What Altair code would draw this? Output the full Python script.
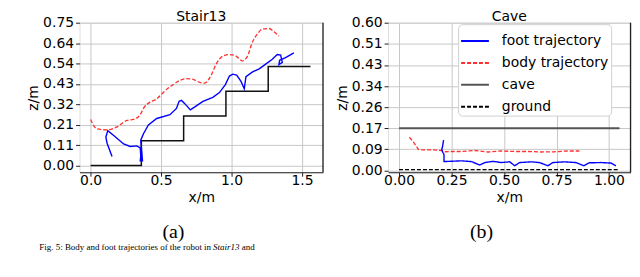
import altair as alt
import pandas as pd

# ---------------- data: Stair13 panel ----------------
stair_x = [0.0, 0.36, 0.66, 0.96, 1.26, 1.56]
stair_z = [0.0, 0.13, 0.26, 0.39, 0.52, 0.52]

body1_x = [0.0, 0.023, 0.047, 0.117, 0.188, 0.258, 0.305, 0.352, 0.375, 0.422, 0.469, 0.504,
           0.539, 0.586, 0.633, 0.680, 0.727, 0.774, 0.809, 0.856, 0.891, 0.938, 0.985, 1.031,
           1.078, 1.113, 1.149, 1.184, 1.219, 1.266, 1.301, 1.336]
body1_z = [0.242, 0.208, 0.192, 0.187, 0.203, 0.237, 0.242, 0.267, 0.300, 0.333, 0.350, 0.375,
           0.400, 0.425, 0.447, 0.457, 0.453, 0.437, 0.433, 0.475, 0.533, 0.575, 0.583, 0.575,
           0.550, 0.575, 0.650, 0.692, 0.717, 0.720, 0.703, 0.680]

foot1_x = [0.152, 0.117, 0.108, 0.122, 0.164, 0.234, 0.281, 0.328, 0.352, 0.356, 0.352, 0.368,
           0.356, 0.375, 0.410, 0.469, 0.563, 0.609, 0.628, 0.645, 0.668, 0.708, 0.750, 0.797,
           0.867, 0.914, 0.956, 0.985, 1.008, 1.036, 1.067, 1.090, 1.102, 1.149, 1.196, 1.242,
           1.289, 1.324, 1.348, 1.360, 1.336, 1.341, 1.383, 1.442]
foot1_z = [0.047, 0.117, 0.150, 0.183, 0.158, 0.113, 0.100, 0.103, 0.092, 0.050, 0.025, 0.025,
           0.133, 0.167, 0.213, 0.247, 0.267, 0.300, 0.337, 0.342, 0.325, 0.292, 0.313, 0.337,
           0.358, 0.383, 0.425, 0.470, 0.480, 0.475, 0.442, 0.403, 0.467, 0.492, 0.508, 0.533,
           0.558, 0.583, 0.580, 0.542, 0.530, 0.553, 0.567, 0.592]

# ---------------- data: Cave panel ----------------
cave_x = [0.0, 1.05]
cave_z = [0.171, 0.171]
ground_x = [0.0, 1.05]
ground_z = [0.003, 0.003]

body2_x = [0.049, 0.068, 0.092, 0.108, 0.155, 0.203, 0.218, 0.250, 0.297, 0.361, 0.424, 0.487,
           0.551, 0.614, 0.677, 0.740, 0.804, 0.859]
body2_z = [0.135, 0.116, 0.086, 0.084, 0.084, 0.081, 0.076, 0.077, 0.077, 0.081, 0.075, 0.079,
           0.077, 0.077, 0.075, 0.076, 0.079, 0.079]

foot2_x = [0.212, 0.207, 0.203, 0.210, 0.214, 0.214, 0.297, 0.345, 0.384, 0.408, 0.448, 0.487,
           0.527, 0.551, 0.574, 0.630, 0.669, 0.709, 0.732, 0.788, 0.843, 0.880, 0.906, 0.962,
           1.009, 1.033]
foot2_z = [0.123, 0.097, 0.084, 0.071, 0.065, 0.036, 0.039, 0.036, 0.022, 0.032, 0.037, 0.032,
           0.035, 0.019, 0.032, 0.035, 0.032, 0.019, 0.032, 0.035, 0.032, 0.019, 0.031, 0.032,
           0.030, 0.019]

# ---------------- ticks / labels ----------------
left_xticks = [0.0, 0.5, 1.0, 1.5]
left_zticks = [0.0, 0.10714, 0.21429, 0.32143, 0.42857, 0.53571, 0.64286, 0.75]
right_xticks = [0.0, 0.25, 0.5, 0.75, 1.0]
right_zticks = [0.0, 0.08571, 0.17143, 0.25714, 0.34286, 0.42857, 0.51429, 0.6]
series_names = ["foot trajectory", "body trajectory", "cave", "ground"]
series_colors = ["#0000ff", "#ff3030", "#555555", "#000000"]
series_dash = [[1, 0], [4, 2], [1, 0], [4, 2]]
caption_parts = ["Fig. 5: Body and foot trajectories of the robot in ", "Stair13", "and"]

FONT = "DejaVu Sans"
SERIF = "Liberation Serif"
FS = 14
W1, W2, H = 245, 244, 150.5
GAP = 65.5


def frame(xs, zs, name):
    return pd.DataFrame({"x": xs, "z": zs, "order": list(range(len(xs))), "series": name})


def xaxis(vals, fmt):
    return alt.Axis(values=vals, tickCount=len(vals), format=fmt, title="x/m", grid=True,
                    domain=True, domainColor="#222222", domainWidth=1.2, tickColor="#222222",
                    tickSize=4, labelFont=FONT, labelFontSize=FS, labelColor="black",
                    labelPadding=-2.5, labelOverlap=False, titleFont=FONT, titleFontSize=FS,
                    titleFontWeight="normal", titleColor="black", titlePadding=3,
                    gridColor="#c8c8c8", gridWidth=1, labelFlush=False)


def zaxis(vals):
    return alt.Axis(values=vals, tickCount=len(vals), format=".2f", title="z/m", grid=True,
                    domain=False, tickColor="#222222", tickSize=4, labelFont=FONT,
                    labelFontSize=FS, labelColor="black", labelPadding=2, labelOverlap=False,
                    titleFont=FONT, titleFontSize=FS, titleFontWeight="normal",
                    titleColor="black", titlePadding=2, gridColor="#c8c8c8", gridWidth=1,
                    labelFlush=False)


def title(t):
    return alt.TitleParams(t, font=FONT, fontSize=FS, fontWeight="normal", color="black",
                           frame="group", offset=-8)


def text_layer(t, x, y, size, italic=False, align="left"):
    return alt.Chart(alt.Data(values=[{"t": t}])).mark_text(
        font=SERIF, fontSize=size, fontStyle="italic" if italic else "normal",
        align=align, baseline="alphabetic", color="black").encode(
        text="t:N", x=alt.value(x), y=alt.value(y))


# ---------------- left panel ----------------
lx = alt.Scale(domain=[-0.0785, 1.6485], nice=False, zero=False)
lz = alt.Scale(domain=[-0.0355, 0.7505], nice=False, zero=False)

stairs = alt.Chart(frame(stair_x, stair_z, "stair")).mark_line(
    interpolate="step-after", color="#111111", strokeWidth=1.5).encode(
    x=alt.X("x:Q", scale=lx, axis=xaxis(left_xticks, ".1f")),
    y=alt.Y("z:Q", scale=lz, axis=zaxis(left_zticks)),
    order="order:Q")
body1 = alt.Chart(frame(body1_x, body1_z, "body")).mark_line(
    color="#ff3030", strokeWidth=1.3, strokeDash=[4, 2], interpolate="monotone").encode(
    x="x:Q", y="z:Q", order="order:Q")
foot1 = alt.Chart(frame(foot1_x, foot1_z, "foot")).mark_line(
    color="#0000ff", strokeWidth=1.4).encode(x="x:Q", y="z:Q", order="order:Q")
spine1 = alt.Chart(alt.Data(values=[{"a": 1}])).mark_rule(color="#222222", strokeWidth=1.3).encode(
    x=alt.value(W1), y=alt.value(0), y2=alt.value(H))
cap_a = text_layer("(a)", 94.5, 217, 20, align="center")
cap_1 = text_layer(caption_parts[0], -40.5, 229, 9)
cap_2 = text_layer(caption_parts[1], 134.4, 229, 9, italic=True)
cap_3 = text_layer(caption_parts[2], 163.2, 229, 9)

left = alt.layer(stairs, body1, foot1, spine1, cap_a, cap_1, cap_2, cap_3).properties(
    width=W1, height=H, title=title("Stair13"))

# ---------------- right panel ----------------
rx = alt.Scale(domain=[-0.0525, 1.1025], nice=False, zero=False)
rz = alt.Scale(domain=[-0.0073, 0.6005], nice=False, zero=False)
legend = alt.Legend(title=None, orient="none", legendX=381, legendY=1.5,
                    symbolType="stroke", symbolSize=784, symbolStrokeWidth=2, labelFont=FONT,
                    labelFontSize=FS, labelColor="black", fillColor="white",
                    strokeColor="#d0d0d0", cornerRadius=4, padding=2, rowPadding=-2.4,
                    labelOffset=12)
color = alt.Color("series:N", scale=alt.Scale(domain=series_names, range=series_colors), legend=legend)
dash = alt.StrokeDash("series:N", scale=alt.Scale(domain=series_names, range=series_dash), legend=legend)

cave = alt.Chart(frame(cave_x, cave_z, "cave")).mark_line(strokeWidth=2).encode(
    x=alt.X("x:Q", scale=rx, axis=xaxis(right_xticks, ".2f")),
    y=alt.Y("z:Q", scale=rz, axis=zaxis(right_zticks)),
    color=color, strokeDash=dash, order="order:Q")
ground = alt.Chart(frame(ground_x, ground_z, "ground")).mark_line(strokeWidth=1.2).encode(
    x="x:Q", y="z:Q", color=color, strokeDash=dash, order="order:Q")
body2 = alt.Chart(frame(body2_x, body2_z, "body trajectory")).mark_line(strokeWidth=1.3).encode(
    x="x:Q", y="z:Q", color=color, strokeDash=dash, order="order:Q")
foot2 = alt.Chart(frame(foot2_x, foot2_z, "foot trajectory")).mark_line(strokeWidth=1.4).encode(
    x="x:Q", y="z:Q", color=color, strokeDash=dash, order="order:Q")
spine2 = alt.Chart(alt.Data(values=[{"a": 1}])).mark_rule(color="#222222", strokeWidth=1.3).encode(
    x=alt.value(W2), y=alt.value(0), y2=alt.value(H))
cap_b = text_layer("(b)", 94, 217, 20, align="center")

right = alt.layer(cave, ground, body2, foot2, spine2, cap_b).properties(
    width=W2, height=H, title=title("Cave"))

chart = alt.hconcat(left, right, spacing=GAP, bounds="flush").properties(
    padding={"left": 18, "top": 0, "right": 0, "bottom": 0}
).configure_view(stroke=None).configure(background="white")

chart.save("out.html", embed_options={"renderer": "svg", "actions": False})
